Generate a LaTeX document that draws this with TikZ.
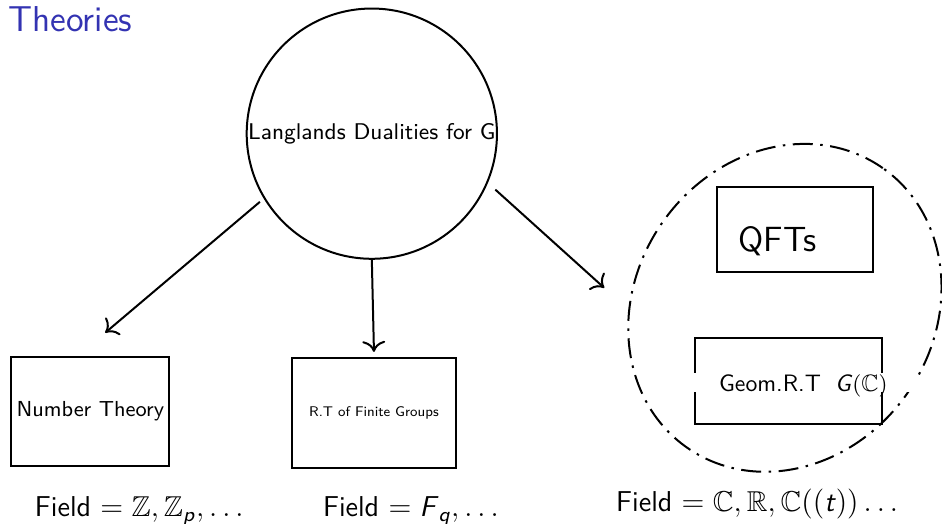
\documentclass[tikz,border=0pt]{standalone}
\usepackage{amsmath,amssymb}
\usetikzlibrary{arrows.meta}
\renewcommand{\familydefault}{\sfdefault}
\definecolor{titleblue}{rgb}{0.2,0.2,0.7}
% sans italic letters inside formulas
\newcommand{\sfit}[1]{\textsf{\textit{#1}}}

\begin{document}
\begin{tikzpicture}[
  box/.style={draw, thick, rectangle, inner sep=0pt},
  link/.style={thick, -{To[scale=1.3]}},
  fieldlbl/.style={anchor=base, inner sep=0pt, font=\fontsize{11.5}{14}\selectfont},
  dashdot line/.style={thick, dash pattern=on 8pt off 3pt on 1pt off 3pt}
]
% frame of the slide
\useasboundingbox (0,0) rectangle (13.25,-7.36);

% title
\node[anchor=base west, inner sep=0pt, text=titleblue, font=\fontsize{14.4}{17}\selectfont] (title) at (0.11,-0.45) {Theories};

% the big circle on top
\node[draw, thick, circle, minimum size=3.52cm, inner sep=0pt, font=\fontsize{9.1}{11}\selectfont] (lang) at (5.23,-1.88) {Langlands Dualities for G};

% the two boxes on the left
\node[box, minimum width=2.22cm, minimum height=1.53cm, font=\fontsize{8.7}{10}\selectfont] (nt) at (1.27,-5.79) {Number Theory};
\node[box, minimum width=2.31cm, minimum height=1.55cm, font=\fontsize{5.6}{7}\selectfont] (rtfg) at (5.26,-5.81) {R.T of Finite Groups};

% the geometric side
\draw[dashdot line, rotate around={55:(11.04,-4.33)}] (11.04,-4.33) ellipse [x radius=2.40, y radius=2.10];
\node[box, minimum width=2.19cm, minimum height=1.20cm] (qftbox) at (11.18,-3.23) {};
\node[anchor=base west, inner sep=0pt, font=\fontsize{14}{17}\selectfont] (qft) at (10.38,-3.54) {QFTs};
\node[box, minimum width=2.63cm, minimum height=1.21cm] (geombox) at (11.09,-5.36) {};
\node[fill=white, anchor=base, inner xsep=12pt, inner ysep=0pt, text height=7.6pt, text depth=0pt, font=\fontsize{9.5}{11}\selectfont] (geom) at (11.30,-5.51) {Geom.R.T\hspace{0.6em}$\sfit{G}(\mathbb{C})$};

% arrows out of the circle
\coordinate (ntend) at (1.48,-4.68);
\coordinate (rtend) at (5.26,-4.95);
\coordinate (geoend) at (8.50,-4.05);
\draw[link, shorten <=2pt] (lang.211) -- (ntend);
\draw[link] (lang.south) -- (rtend);
\draw[link, shorten <=4pt] (lang.337) -- (geoend);

% fields under each column
\node[fieldlbl] (f1) at (1.96,-7.27) {Field $= \mathbb{Z},\mathbb{Z}_{\sfit{p}},\ldots$};
\node[fieldlbl] (f2) at (5.78,-7.27) {Field $= \sfit{F}_{\sfit{q}},\ldots$};
\node[fieldlbl] (f3) at (10.65,-7.19) {Field $= \mathbb{C},\mathbb{R},\mathbb{C}((\sfit{t}))\ldots$};
\end{tikzpicture}
\end{document}
